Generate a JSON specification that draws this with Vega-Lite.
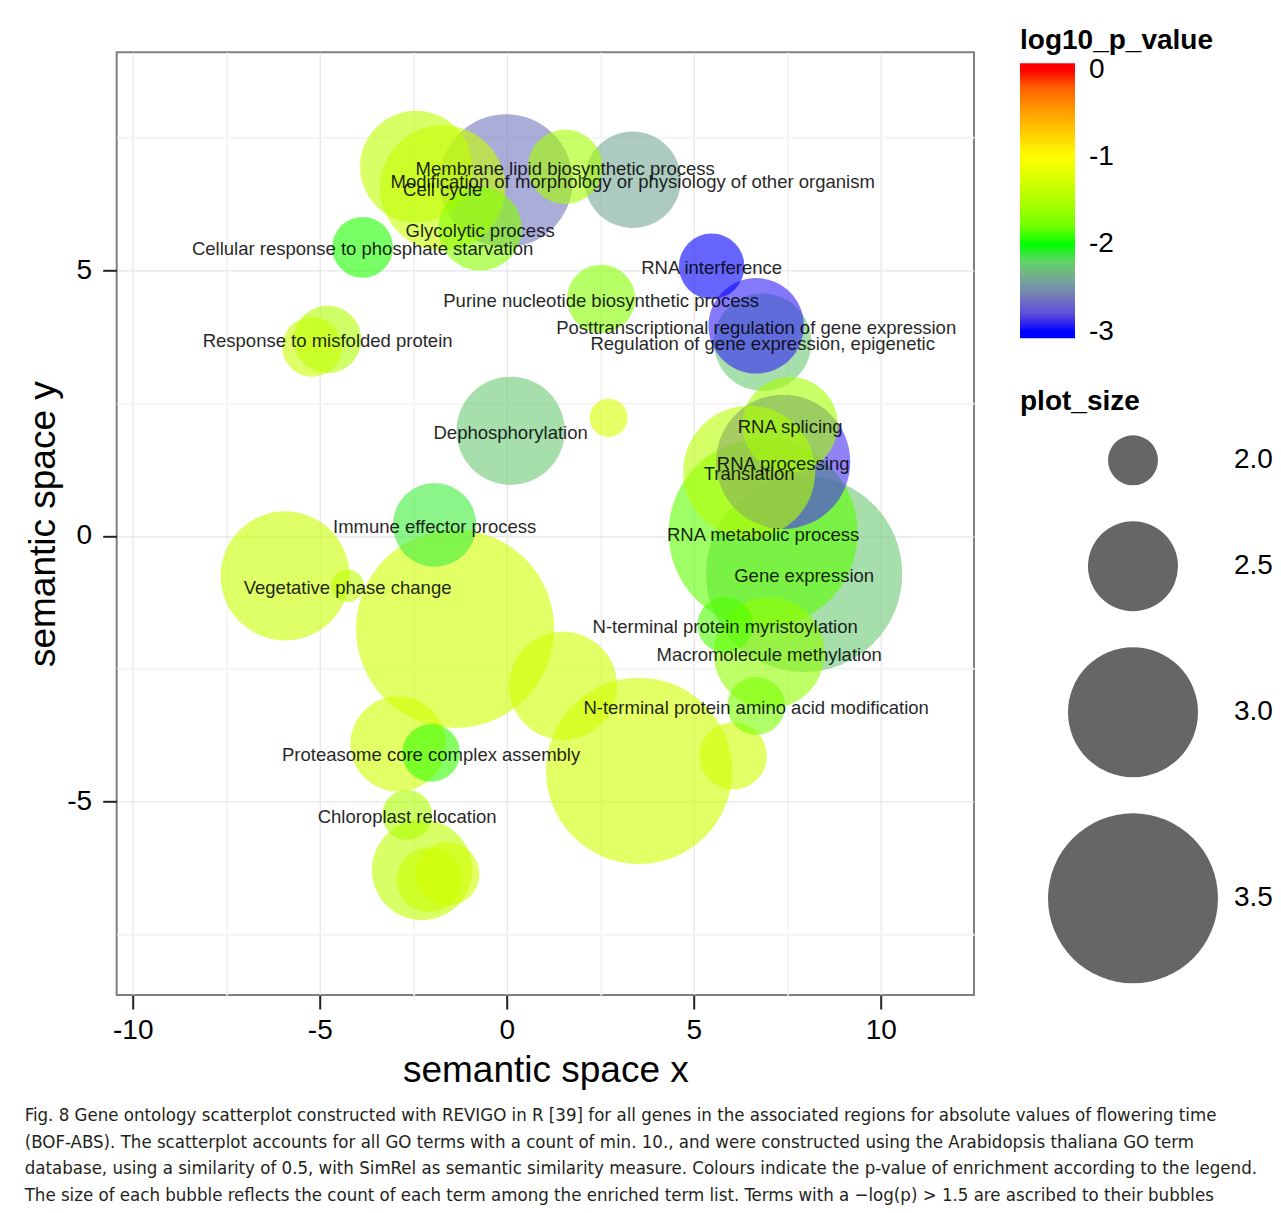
{
  "$schema": "https://vega.github.io/schema/vega-lite/v6.json",
  "width": 857.3,
  "height": 942.7,
  "autosize": {"type": "none"},
  "padding": {"left": 116.7, "top": 52.3, "right": 307, "bottom": 218},
  "background": "white",
  "config": {
    "font": "Liberation Sans",
    "view": {"stroke": "#7f7f7f", "strokeWidth": 2},
    "axis": {"domain": false}
  },
  "title": {
    "text": [
      "Fig. 8 Gene ontology scatterplot constructed with REVIGO in R [39] for all genes in the associated regions for absolute values of flowering time",
      "(BOF-ABS). The scatterplot accounts for all GO terms with a count of min. 10., and were constructed using the Arabidopsis thaliana GO term",
      "database, using a similarity of 0.5, with SimRel as semantic similarity measure. Colours indicate the p-value of enrichment according to the legend.",
      "The size of each bubble reflects the count of each term among the enriched term list. Terms with a −log(p) > 1.5 are ascribed to their bubbles"
    ],
    "orient": "bottom",
    "anchor": "start",
    "frame": "group",
    "align": "left",
    "dx": -92,
    "offset": 18,
    "font": "DejaVu Sans Condensed",
    "fontSize": 18.5,
    "fontWeight": "normal",
    "color": "#231f20",
    "lineHeight": 26.5
  },
  "data": {
    "values": [
      {"term": "", "x": -1.382, "y": -1.752, "plot_size": 3.85, "log10_p_value": -1.3},
      {"term": "Gene expression", "x": 7.949, "y": -0.716, "plot_size": 3.825, "log10_p_value": -2.25},
      {"term": "RNA metabolic process", "x": 6.853, "y": 0.057, "plot_size": 3.7375, "log10_p_value": -1.85},
      {"term": "", "x": 3.537, "y": -4.428, "plot_size": 3.7, "log10_p_value": -1.3},
      {"term": "RNA processing", "x": 7.388, "y": 1.394, "plot_size": 3.05, "log10_p_value": -2.9},
      {"term": "", "x": -0.019, "y": 6.689, "plot_size": 3.0375, "log10_p_value": -2.62},
      {"term": "Translation", "x": 6.479, "y": 1.206, "plot_size": 3.025, "log10_p_value": -1.45},
      {"term": "", "x": -5.928, "y": -0.754, "plot_size": 2.9875, "log10_p_value": -1.35},
      {"term": "Cell cycle", "x": -1.717, "y": 6.557, "plot_size": 2.9375, "log10_p_value": -1.35},
      {"term": "", "x": -2.425, "y": 6.953, "plot_size": 2.775, "log10_p_value": -1.4},
      {"term": "Macromolecule methylation", "x": 7.013, "y": -2.205, "plot_size": 2.7625, "log10_p_value": -1.65},
      {"term": "Dephosphorylation", "x": 0.102, "y": 1.979, "plot_size": 2.725, "log10_p_value": -2.25},
      {"term": "", "x": 1.505, "y": -2.826, "plot_size": 2.725, "log10_p_value": -1.3},
      {"term": "", "x": -2.265, "y": -6.294, "plot_size": 2.625, "log10_p_value": -1.4},
      {"term": "Regulation of gene expression, epigenetic", "x": 6.84, "y": 3.646, "plot_size": 2.5875, "log10_p_value": -2.25},
      {"term": "Modification of morphology or physiology of other organism", "x": 3.364, "y": 6.708, "plot_size": 2.575, "log10_p_value": -2.4},
      {"term": "Posttranscriptional regulation of gene expression", "x": 6.666, "y": 3.957, "plot_size": 2.5625, "log10_p_value": -2.95},
      {"term": "RNA splicing", "x": 7.575, "y": 2.092, "plot_size": 2.5625, "log10_p_value": -1.55},
      {"term": "", "x": -2.906, "y": -3.919, "plot_size": 2.5625, "log10_p_value": -1.3},
      {"term": "Glycolytic process", "x": -0.714, "y": 5.785, "plot_size": 2.4125, "log10_p_value": -1.7},
      {"term": "Immune effector process", "x": -1.93, "y": 0.207, "plot_size": 2.4125, "log10_p_value": -2.07},
      {"term": "Membrane lipid biosynthetic process", "x": 1.559, "y": 6.953, "plot_size": 2.3, "log10_p_value": -1.55},
      {"term": "Purine nucleotide biosynthetic process", "x": 2.521, "y": 4.466, "plot_size": 2.225, "log10_p_value": -1.7},
      {"term": "Response to misfolded protein", "x": -4.791, "y": 3.703, "plot_size": 2.2125, "log10_p_value": -1.5},
      {"term": "", "x": 6.051, "y": -4.145, "plot_size": 2.2125, "log10_p_value": -1.3},
      {"term": "RNA interference", "x": 5.476, "y": 5.078, "plot_size": 2.1875, "log10_p_value": -3.0},
      {"term": "", "x": -2.078, "y": -6.482, "plot_size": 2.175, "log10_p_value": -1.35},
      {"term": "", "x": -1.583, "y": -6.369, "plot_size": 2.1625, "log10_p_value": -1.3},
      {"term": "Cellular response to phosphate starvation", "x": -3.856, "y": 5.436, "plot_size": 2.125, "log10_p_value": -1.98},
      {"term": "", "x": -5.206, "y": 3.561, "plot_size": 2.1125, "log10_p_value": -1.35},
      {"term": "N-terminal protein amino acid modification", "x": 6.666, "y": -3.203, "plot_size": 2.0875, "log10_p_value": -1.75},
      {"term": "Proteasome core complex assembly", "x": -2.024, "y": -4.089, "plot_size": 2.0875, "log10_p_value": -1.95},
      {"term": "N-terminal protein myristoylation", "x": 5.837, "y": -1.677, "plot_size": 2.0625, "log10_p_value": -1.9},
      {"term": "Chloroplast relocation", "x": -2.666, "y": -5.257, "plot_size": 2.0, "log10_p_value": -1.5},
      {"term": "", "x": 2.722, "y": 2.223, "plot_size": 1.8375, "log10_p_value": -1.25},
      {"term": "Vegetative phase change", "x": -4.257, "y": -0.942, "plot_size": 1.775, "log10_p_value": -1.4}
    ]
  },
  "encoding": {
    "x": {
      "field": "x", "type": "quantitative",
      "scale": {"domain": [-10.43, 12.49], "nice": false, "zero": false},
      "axis": {
        "title": "semantic space x",
        "titleFontSize": 37, "titleFontWeight": "normal", "titleColor": "#000", "titlePadding": 8,
        "values": [-10, -7.5, -5, -2.5, 0, 2.5, 5, 7.5, 10],
        "labelExpr": "datum.value % 5 === 0 ? '' + datum.value : ''",
        "labelFontSize": 28, "labelColor": "#000", "labelPadding": 7, "labelFlush": false,
        "tickSize": 14, "tickWidth": 2, "tickColor": "#222",
        "tickOpacity": {"condition": {"test": "datum.value % 5 !== 0", "value": 0}, "value": 1},
        "gridColor": {"condition": {"test": "datum.value % 5 !== 0", "value": "#f4f4f4"}, "value": "#e5e5e5"},
        "gridWidth": {"condition": {"test": "datum.value % 5 !== 0", "value": 2}, "value": 1.2}
      }
    },
    "y": {
      "field": "y", "type": "quantitative",
      "scale": {"domain": [-8.65, 9.11], "nice": false, "zero": false},
      "axis": {
        "title": "semantic space y",
        "titleFontSize": 37, "titleFontWeight": "normal", "titleColor": "#000", "titlePadding": 4,
        "values": [-7.5, -5, -2.5, 0, 2.5, 5, 7.5],
        "labelExpr": "datum.value % 5 === 0 ? '' + datum.value : ''",
        "labelFontSize": 28, "labelColor": "#000", "labelPadding": 11, "labelFlush": false,
        "tickSize": 14, "tickWidth": 2, "tickColor": "#222",
        "tickOpacity": {"condition": {"test": "datum.value % 5 !== 0", "value": 0}, "value": 1},
        "gridColor": {"condition": {"test": "datum.value % 5 !== 0", "value": "#f4f4f4"}, "value": "#e5e5e5"},
        "gridWidth": {"condition": {"test": "datum.value % 5 !== 0", "value": 2}, "value": 1.2}
      }
    }
  },
  "layer": [
    {
      "mark": {"type": "circle", "opacity": 0.6, "strokeWidth": 0},
      "encoding": {
        "size": {
          "field": "plot_size", "type": "quantitative",
          "scale": {
            "domain": [1.5, 1.75, 2.0, 2.25, 2.5, 2.75, 3.0, 3.25, 3.5, 3.75, 4.0],
            "range": [100, 900, 2500, 4900, 8100, 12100, 16900, 22500, 28900, 36100, 44100]
          },
          "legend": {
            "title": "plot_size", "titleLimit": 400,
            "orient": "none", "legendX": 903.3, "legendY": 336,
            "values": [2.0, 2.5, 3.0, 3.5], "format": ".1f",
            "titleFontSize": 28, "titleFontWeight": "bold", "titleColor": "#000", "titlePadding": 19,
            "labelFontSize": 28, "labelColor": "#000", "labelOffset": 16,
            "symbolType": "circle", "symbolOffset": 28, "rowPadding": 36,
            "symbolFillColor": "#666666", "symbolStrokeWidth": 0, "symbolOpacity": 1,
            "encode": {"symbols": {"update": {"fill": {"value": "#666666"}, "opacity": {"value": 1}, "fillOpacity": {"value": 1}, "strokeWidth": {"value": 0}}}}
          }
        },
        "color": {
          "field": "log10_p_value", "type": "quantitative",
          "scale": {
            "domain": [-3.077, -3, -2, -1, 0, 0.077],
            "range": ["#0000ff", "#0000ff", "#00ff00", "#ffff00", "#ff0000", "#ff0000"],
            "interpolate": "lab"
          },
          "legend": {
            "title": "log10_p_value", "titleLimit": 400,
            "orient": "none", "legendX": 903.3, "legendY": -25,
            "values": [-3, -2, -1, 0],
            "labelExpr": "'' + datum.value",
            "gradientLength": 275, "gradientThickness": 55, "gradientStrokeWidth": 0,
            "gradientOpacity": 1,
            "titleFontSize": 28, "titleFontWeight": "bold", "titleColor": "#000", "titlePadding": 8,
            "labelFontSize": 28, "labelColor": "#000", "labelOffset": 14,
            "encode": {"gradient": {"update": {"opacity": {"value": 1}, "fillOpacity": {"value": 1}}}}
          }
        }
      }
    },
    {
      "transform": [{"filter": "datum.term !== ''"}],
      "mark": {"type": "text", "fontSize": 18.5, "dy": 2, "font": "Liberation Sans", "color": "#000", "opacity": 0.85},
      "encoding": {"text": {"field": "term"}}
    }
  ]
}
